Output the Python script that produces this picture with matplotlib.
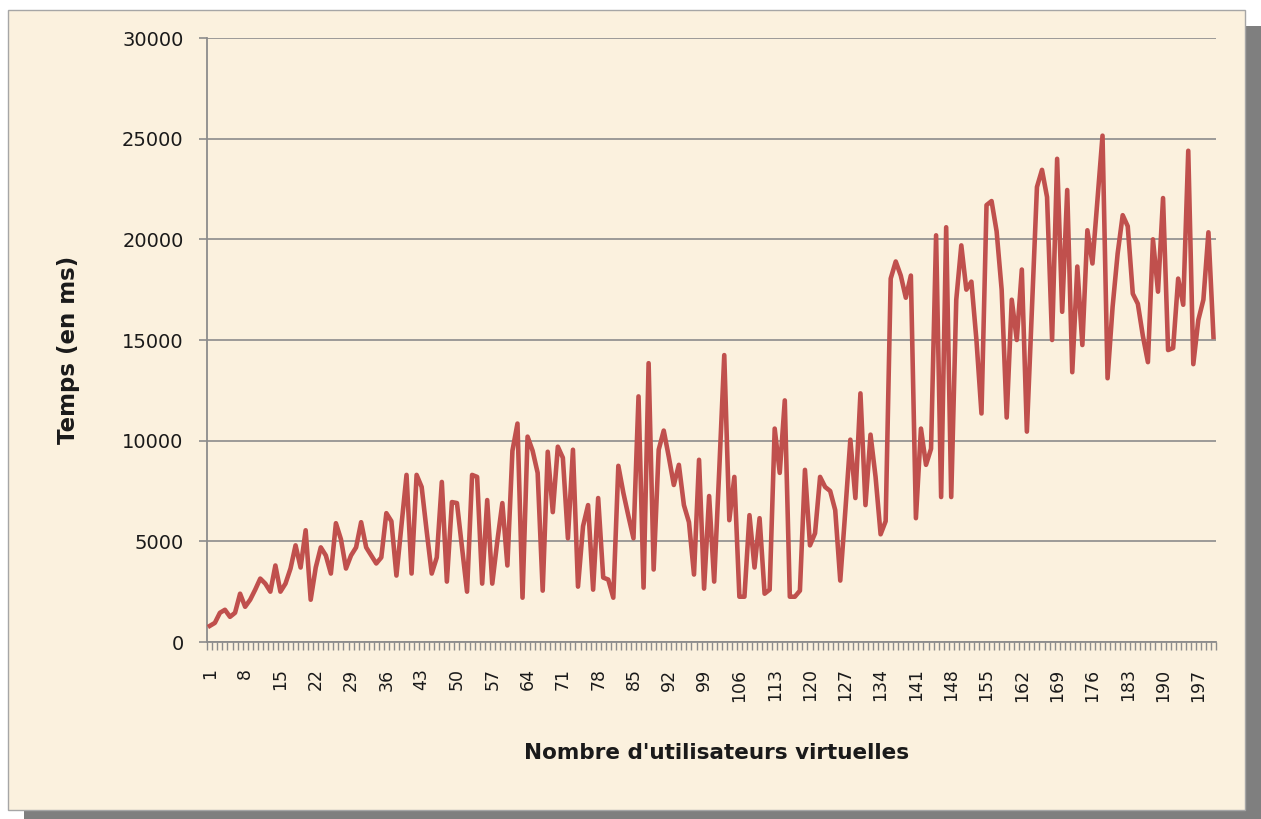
import numpy as np
import matplotlib
matplotlib.use('Agg')
import matplotlib.pyplot as plt
from matplotlib.patches import Rectangle

# virtual users 1..200
users = np.arange(1, 201)

# response time in ms
temps_1_50 = [800, 950, 1450, 1600, 1250, 1450, 2400, 1750, 2100, 2600,
              3150, 2900, 2500, 3800, 2500, 2900, 3650, 4800, 3700, 5550,
              2100, 3700, 4700, 4300, 3400, 5900, 5100, 3650, 4300, 4700,
              5950, 4700, 4300, 3900, 4200, 6400, 6000, 3300, 5800, 8300,
              3400, 8300, 7700, 5500, 3400, 4200, 7950, 3000, 6950, 6900]
temps_51_100 = [4700, 2500, 8300, 8200, 2900, 7050, 2900, 5000, 6900, 3800,
                9500, 10850, 2200, 10200, 9500, 8400, 2550, 9450, 6450, 9700,
                9150, 5150, 9550, 2750, 5750, 6800, 2600, 7150, 3200, 3100,
                2200, 8750, 7400, 6250, 5150, 12200, 2700, 13850, 3600, 9550,
                10500, 9200, 7800, 8800, 6800, 5950, 3350, 9050, 2650, 7250]
temps_101_150 = [3000, 8500, 14250, 6050, 8200, 2250, 2250, 6300, 3700, 6150,
                 2400, 2600, 10600, 8400, 12000, 2250, 2250, 2550, 8550, 4800,
                 5400, 8200, 7700, 7500, 6550, 3050, 6500, 10050, 7150, 12350,
                 6800, 10300, 8200, 5350, 6000, 18050, 18900, 18200, 17100, 18200,
                 6150, 10600, 8800, 9600, 20200, 7200, 20600, 7200, 17000, 19700]
temps_151_200 = [17500, 17900, 15000, 11350, 21700, 21900, 20400, 17500, 11150, 17000,
                 15000, 18500, 10450, 16500, 22600, 23450, 22100, 15000, 24000, 16400,
                 22450, 13400, 18650, 14750, 20450, 18800, 22000, 25150, 13100, 16650,
                 19300, 21200, 20650, 17300, 16800, 15200, 13900, 20000, 17400, 22050,
                 14500, 14600, 18050, 16750, 24400, 13800, 16000, 17000, 20350, 15150]
temps = temps_1_50 + temps_51_100 + temps_101_150 + temps_151_200

y_ticks = [0, 5000, 10000, 15000, 20000, 25000, 30000]
x_labels = list(range(1, 201, 7))

W, H = 1261, 819
BG = '#FBF1DE'
LINE = '#C0504D'
GRID = '#8C8C8C'


def px_box(x0, y0, x1, y1):
    # pixel box (top-left origin) -> figure fraction rectangle
    return (x0 / W, 1 - y1 / H), (x1 - x0) / W, (y1 - y0) / H


fig = plt.figure(figsize=(W / 100, H / 100), dpi=100, facecolor='white')

# drop shadow and chart area, kept under the axes
xy, w, h = px_box(24, 26, 1261, 819)
fig.patches.append(Rectangle(xy, w, h, transform=fig.transFigure,
                             facecolor='#7F7F7F', edgecolor='none', zorder=-3))
xy, w, h = px_box(8, 10, 1245, 810)
fig.patches.append(Rectangle(xy, w, h, transform=fig.transFigure,
                             facecolor=BG, edgecolor='#A6A6A6', lw=1, zorder=-2))

ax = fig.add_axes([207.3 / W, 1 - 642 / H, (1216 - 207.3) / W, (642 - 38) / H])
ax.set_facecolor('none')
ax.set_zorder(2)

ax.plot(users, temps, color=LINE, lw=3.3, solid_joinstyle='round', zorder=3)

ax.set_xlim(0.5, 200.5)
ax.set_ylim(0, 30000)

ax.set_yticks(y_ticks)
ax.set_yticklabels([str(v) for v in y_ticks])
ax.yaxis.grid(True, color=GRID, lw=1.2)
ax.set_axisbelow(True)
ax.tick_params(axis='y', length=6, width=1.2, color=GRID, pad=11,
               labelsize=14, labelcolor='#1A1A1A')

# tick marks between categories, labels at every 7th category
ax.set_xticks(np.arange(0.5, 201, 1.0))
ax.set_xticklabels([])
ax.set_xticks(x_labels, minor=True)
ax.set_xticklabels([str(v) for v in x_labels], minor=True, rotation=90)
ax.tick_params(axis='x', which='major', length=6, width=1, color=GRID)
ax.tick_params(axis='x', which='minor', length=0, pad=19,
               labelsize=12.5, labelcolor='#1A1A1A')

for side in ['top', 'right']:
    ax.spines[side].set_visible(False)
for side in ['left', 'bottom']:
    ax.spines[side].set_color(GRID)
    ax.spines[side].set_linewidth(1.3)

fig.text(68 / W, 1 - 350 / H, 'Temps (en ms)', rotation=90, ha='center',
         va='center', fontsize=16.5, fontweight='bold', color='#1A1A1A')
fig.text(717 / W, 1 - 753 / H, "Nombre d'utilisateurs virtuelles", ha='center',
         va='center', fontsize=15.5, fontweight='bold', color='#1A1A1A')

fig.savefig('out.png', dpi=100, facecolor='white')
